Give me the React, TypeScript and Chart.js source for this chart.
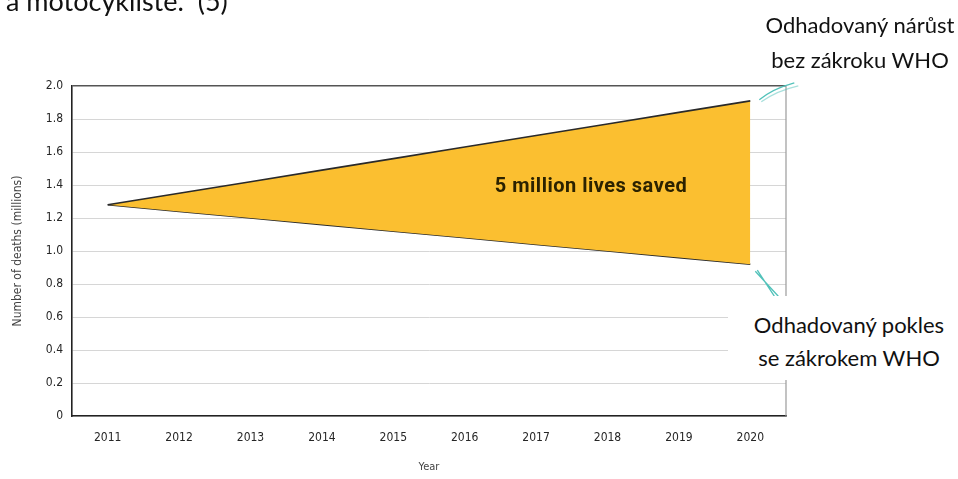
import React, { useEffect, useRef } from "react";
import { Chart, registerables } from "chart.js";

Chart.register(...registerables);

const years = ["2011", "2012", "2013", "2014", "2015", "2016", "2017", "2018", "2019", "2020"];
const withoutWHO = [1.28, 1.35, 1.42, 1.49, 1.56, 1.63, 1.7, 1.77, 1.84, 1.91];
const withWHO = [1.28, 1.24, 1.2, 1.16, 1.12, 1.08, 1.04, 1.0, 0.96, 0.92];
const yTickLabels = ["0", "0.2", "0.4", "0.6", "0.8", "1.0", "1.2", "1.4", "1.6", "1.8", "2.0"];

const headerText = "a motocyklisté.“ (5)";
const upperNote = ["Odhadovaný nárůst", "bez zákroku WHO"];
const lowerNote = ["Odhadovaný pokles", "se zákrokem WHO"];
const centerNote = "5 million lives saved";
const yTitle = "Number of deaths (millions)";
const xTitle = "Year";

const axisFont = '"DejaVu Sans Condensed", "Liberation Sans Narrow", sans-serif';
const noteFont = 'Lato, "Open Sans", sans-serif';

const decorPlugin = {
  id: "decor",
  afterDatasetsDraw(chart: any) {
    const { ctx, chartArea, scales } = chart;
    ctx.save();
    // right border
    ctx.strokeStyle = "#9a9a9a";
    ctx.lineWidth = 1.2;
    ctx.beginPath();
    ctx.moveTo(chartArea.right, chartArea.top);
    ctx.lineTo(chartArea.right, chartArea.bottom);
    ctx.stroke();
    // callout connectors anchored to last data points
    const last = years.length - 1;
    const xp = scales.x.getPixelForValue(last);
    const yu = scales.y.getPixelForValue(withoutWHO[last]);
    const yl = scales.y.getPixelForValue(withWHO[last]);
    ctx.strokeStyle = "#52c2ba";
    ctx.lineWidth = 1.3;
    ctx.beginPath();
    ctx.moveTo(xp + 9, yu - 1);
    ctx.quadraticCurveTo(xp + 22, yu - 12, xp + 44, yu - 18);
    ctx.stroke();
    ctx.strokeStyle = "rgba(82,194,186,0.5)";
    ctx.beginPath();
    ctx.moveTo(xp + 11, yu + 1);
    ctx.quadraticCurveTo(xp + 26, yu - 10, xp + 48, yu - 15);
    ctx.stroke();
    ctx.strokeStyle = "#52c2ba";
    ctx.beginPath();
    ctx.moveTo(xp + 5, yl + 7);
    ctx.lineTo(xp + 28, yl + 32);
    ctx.moveTo(xp + 7, yl + 6);
    ctx.lineTo(xp + 24, yl + 32);
    ctx.stroke();
    ctx.restore();
  },
};

export default function App() {
  const ref = useRef<HTMLCanvasElement>(null);
  useEffect(() => {
    if (!ref.current) return;
    const chart = new Chart(ref.current, {
      type: "line",
      data: {
        labels: years,
        datasets: [
          {
            label: "Without WHO",
            data: withoutWHO,
            borderColor: "#2a2a2a",
            borderWidth: 1.6,
            backgroundColor: "#FBBF30",
            fill: "+1",
            pointRadius: 0,
            tension: 0,
          },
          {
            label: "With WHO",
            data: withWHO,
            borderColor: "#2a2a2a",
            borderWidth: 1.6,
            backgroundColor: "#FBBF30",
            fill: false,
            pointRadius: 0,
            tension: 0,
          },
        ],
      },
      options: {
        responsive: false,
        animation: false,
        layout: { padding: { top: 86, right: 172, left: 0, bottom: 0 } },
        plugins: { legend: { display: false }, tooltip: { enabled: false } },
        scales: {
          x: {
            type: "category",
            offset: true,
            grid: { display: false, drawTicks: false },
            border: { display: true, color: "#222", width: 1.6 },
            ticks: {
              padding: 15,
              color: "#262626",
              font: { family: axisFont, size: 12 },
              maxRotation: 0,
            },
            title: {
              display: true,
              text: xTitle,
              color: "#444",
              font: { family: axisFont, size: 11 },
              padding: { top: 0, bottom: 5 },
            },
            afterFit(scale: any) {
              scale.height = 63;
            },
          },
          y: {
            min: 0,
            max: 2,
            grid: {
              drawTicks: false,
              color: (c: any) => (c.tick && c.tick.value >= 2 ? "#555" : "#d6d6d6"),
              lineWidth: (c: any) => (c.tick && c.tick.value >= 2 ? 1.4 : 1),
            },
            border: { display: true, color: "#222", width: 1.6 },
            ticks: {
              stepSize: 0.2,
              padding: 9,
              color: "#262626",
              font: { family: axisFont, size: 12 },
              callback: (_v: any, i: number) => yTickLabels[i],
            },
            title: {
              display: true,
              text: yTitle,
              color: "#444",
              font: { family: axisFont, size: 12 },
              padding: { top: 11, bottom: 0 },
            },
            afterFit(scale: any) {
              scale.width = 72;
            },
          },
        },
      },
      plugins: [decorPlugin],
    });
    return () => chart.destroy();
  }, []);

  return (
    <div
      style={{
        position: "fixed",
        left: 0,
        top: 0,
        width: 958,
        height: 479,
        background: "#fff",
        overflow: "hidden",
      }}
    >
      <canvas ref={ref} width={958} height={479} style={{ position: "absolute", left: 0, top: 0 }} />
      <div
        style={{
          position: "absolute",
          left: 6,
          top: -12,
          fontFamily: noteFont,
          fontSize: 27,
          lineHeight: "26px",
          color: "#111",
          whiteSpace: "nowrap",
        }}
      >
        {headerText}
      </div>
      <div
        style={{
          position: "absolute",
          left: 760,
          top: 7,
          width: 200,
          textAlign: "center",
          fontFamily: noteFont,
          fontSize: 22,
          lineHeight: "35px",
          color: "#111",
          whiteSpace: "nowrap",
        }}
      >
        {upperNote.map((t) => (
          <div key={t}>{t}</div>
        ))}
      </div>
      <div style={{ position: "absolute", left: 728, top: 296, width: 230, height: 84, background: "#fff" }} />
      <div
        style={{
          position: "absolute",
          left: 749,
          top: 308,
          width: 200,
          textAlign: "center",
          fontFamily: noteFont,
          fontSize: 22,
          lineHeight: "33px",
          color: "#111",
          whiteSpace: "nowrap",
        }}
      >
        {lowerNote.map((t) => (
          <div key={t}>{t}</div>
        ))}
      </div>
      <div
        style={{
          position: "absolute",
          left: 481,
          top: 175,
          width: 220,
          textAlign: "center",
          fontFamily: 'Roboto, "DejaVu Sans Condensed", sans-serif',
          fontWeight: 700,
          fontSize: 20,
          letterSpacing: "0.5px",
          lineHeight: "20px",
          color: "#2b2200",
          whiteSpace: "nowrap",
        }}
      >
        {centerNote}
      </div>
    </div>
  );
}
